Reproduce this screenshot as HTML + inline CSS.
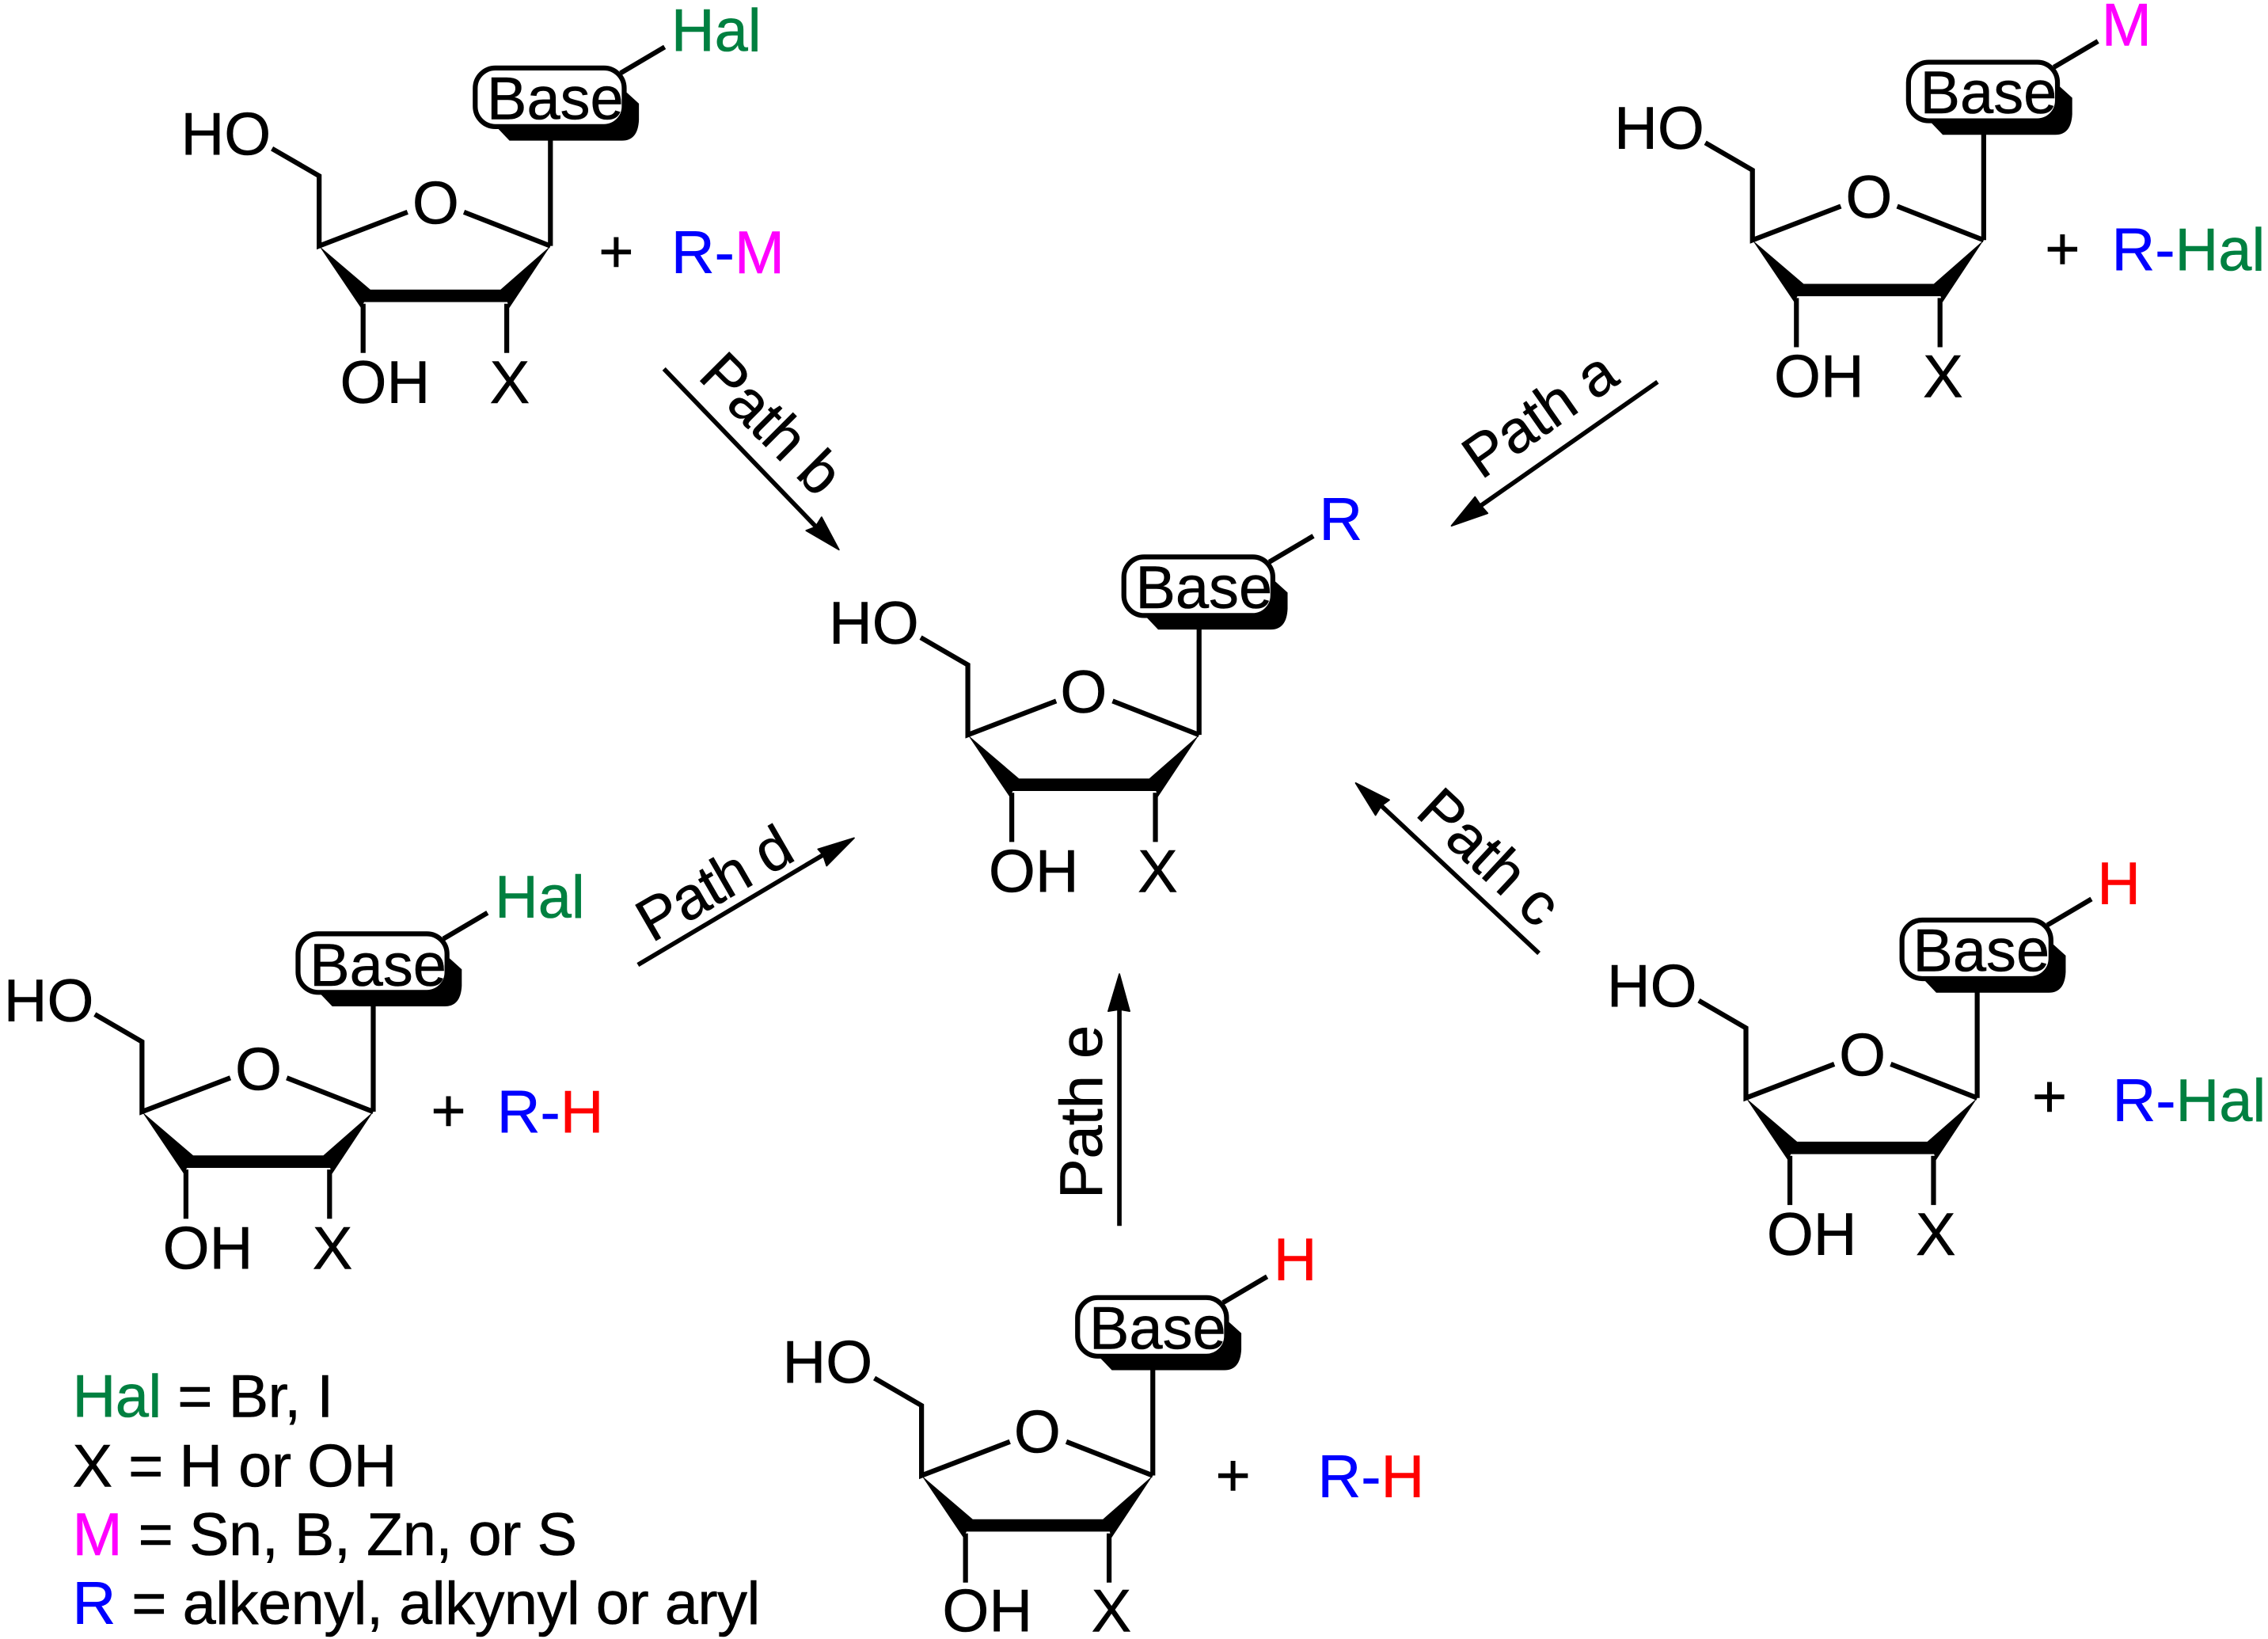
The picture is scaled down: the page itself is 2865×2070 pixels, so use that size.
<!DOCTYPE html>
<html><head><meta charset="utf-8"><style>
html,body{margin:0;padding:0;background:#fff;width:2865px;height:2070px;overflow:hidden}
svg{display:block}
text{font-family:"Liberation Sans",Arial,sans-serif;font-size:41.5px;fill:#000;stroke:#000;stroke-width:.3px}
.g{fill:#008040;stroke:#008040}.b{fill:#0000ff;stroke:#0000ff}.m{fill:#ff00ff;stroke:#ff00ff}.r{fill:#ff0000;stroke:#ff0000}
.leg{letter-spacing:-.28px}
</style></head><body>
<svg xmlns="http://www.w3.org/2000/svg" width="2865" height="2070" viewBox="0 0 1568 1133">
<defs>
<g id="mol">
<path d="M433.3 64 L441.7 71.6 V82.9 Q441 97.2 430 97.2 H352.2 L344 88.6 Z" fill="#000"/>
<rect x="328.5" y="47" width="103" height="40.5" rx="14" ry="14" fill="#fff" stroke="#000" stroke-width="3.4"/>
<g fill="none" stroke="#000" stroke-width="3.4" stroke-linecap="butt">
<path d="M380.5 97 V170"/>
<path d="M429 50.5 L459.5 32.5"/>
<path d="M188 102.7 L220.6 121.6 V170 L281.7 146.6"/>
<path d="M320.7 146.6 L380.5 170"/>
<path d="M251 210 V244"/>
<path d="M350.3 210 V244"/>
</g>
<path d="M220.6 170 L256 200.2 H346 L380.5 170 L352 213 L350.7 208.8 H251.7 L249.6 213 Z" fill="#000"/>
</g>
</defs>

<!-- top left -->
<use href="#mol"/>
<text x="336.5" y="82.4">Base</text>
<text x="125" y="107">HO</text>
<text x="285" y="154.5">O</text>
<text x="235" y="278.6">OH</text>
<text x="338.5" y="278.6">X</text>
<text x="464" y="35.4" class="g">Hal</text>
<text x="426" y="188" text-anchor="middle">+</text>
<text x="464" y="188.7"><tspan class="b">R-</tspan><tspan class="m">M</tspan></text>

<!-- top right -->
<use href="#mol" transform="translate(991,-4)"/>
<text x="1327.5" y="78.4">Base</text>
<text x="1116" y="103">HO</text>
<text x="1276" y="150.5">O</text>
<text x="1226.5" y="274.6">OH</text>
<text x="1329.5" y="274.6">X</text>
<text x="1453" y="31.4" class="m">M</text>
<text x="1426" y="186" text-anchor="middle">+</text>
<text x="1460" y="187"><tspan class="b">R-</tspan><tspan class="g">Hal</tspan></text>

<!-- center -->
<use href="#mol" transform="translate(448.5,338)"/>
<text x="785" y="420.4">Base</text>
<text x="573" y="445">HO</text>
<text x="733" y="492.5">O</text>
<text x="683.5" y="616.6">OH</text>
<text x="786.5" y="616.6">X</text>
<text x="912" y="373.4" class="b">R</text>

<!-- left -->
<use href="#mol" transform="translate(-122.5,598.5)"/>
<text x="214" y="681.4">Base</text>
<text x="2.5" y="706">HO</text>
<text x="162.5" y="753.5">O</text>
<text x="112.5" y="877.2">OH</text>
<text x="216" y="877.2">X</text>
<text x="342" y="634.4" class="g">Hal</text>
<text x="310" y="782" text-anchor="middle">+</text>
<text x="343.5" y="783"><tspan class="b">R-</tspan><tspan class="r">H</tspan></text>

<!-- right -->
<use href="#mol" transform="translate(986.5,589)"/>
<text x="1322.5" y="671.4">Base</text>
<text x="1111" y="696">HO</text>
<text x="1271.5" y="743.5">O</text>
<text x="1221.5" y="867.6">OH</text>
<text x="1324.5" y="867.6">X</text>
<text x="1450" y="625" class="r">H</text>
<text x="1417" y="772" text-anchor="middle">+</text>
<text x="1460.5" y="775"><tspan class="b">R-</tspan><tspan class="g">Hal</tspan></text>

<!-- bottom -->
<use href="#mol" transform="translate(416.5,850)"/>
<text x="753" y="932.4">Base</text>
<text x="541" y="956">HO</text>
<text x="701" y="1004">O</text>
<text x="651.5" y="1127.8">OH</text>
<text x="754.5" y="1127.8">X</text>
<text x="880.5" y="885" class="r">H</text>
<text x="852.5" y="1034" text-anchor="middle">+</text>
<text x="911" y="1035"><tspan class="b">R-</tspan><tspan class="r">H</tspan></text>

<!-- arrows -->
<g stroke="#000" stroke-width="3.1" fill="none">
<path d="M459 255 L564 364"/>
<path d="M1146 264 L1024 349.4"/>
<path d="M441 667 L569 591"/>
<path d="M1064 659 L955 557"/>
<path d="M773.9 847.4 V698"/>
</g>
<g fill="#000" stroke="#000" stroke-width="1" stroke-linejoin="round">
<path d="M580 380 L557.3 366.8 L563.7 364.3 L568 357.5 Z"/>
<path d="M1003.5 363.5 L1019.8 343.5 L1023.8 349.4 L1028.5 354.8 Z"/>
<path d="M590.5 579.3 L565.5 587 L569 591 L571.5 598.5 Z"/>
<path d="M937.3 541.3 L960.5 553 L955 557 L951 563.5 Z"/>
<path d="M773.9 673.3 L781 699 L773.9 697.8 L766.2 699 Z"/>
</g>
<text transform="translate(481.5,261) rotate(45)" style="letter-spacing:-.3px">Path b</text>
<text transform="translate(1024,332) rotate(-35)" style="letter-spacing:-.3px">Path a</text>
<text transform="translate(450.5,652) rotate(-30)" style="letter-spacing:-.7px">Path d</text>
<text transform="translate(977.5,563) rotate(43)" style="letter-spacing:-.2px">Path c</text>
<text transform="translate(761.7,828.7) rotate(-90)">Path e</text>

<!-- legend -->
<text class="leg" x="50" y="979.5"><tspan class="g">Hal</tspan> = Br, I</text>
<text class="leg" x="50" y="1027.5">X = H or OH</text>
<text class="leg" x="50" y="1075"><tspan class="m">M</tspan> = Sn, B, Zn, or S</text>
<text class="leg" x="50" y="1122.5"><tspan class="b">R</tspan> = alkenyl, alkynyl or aryl</text>
</svg>
</body></html>
